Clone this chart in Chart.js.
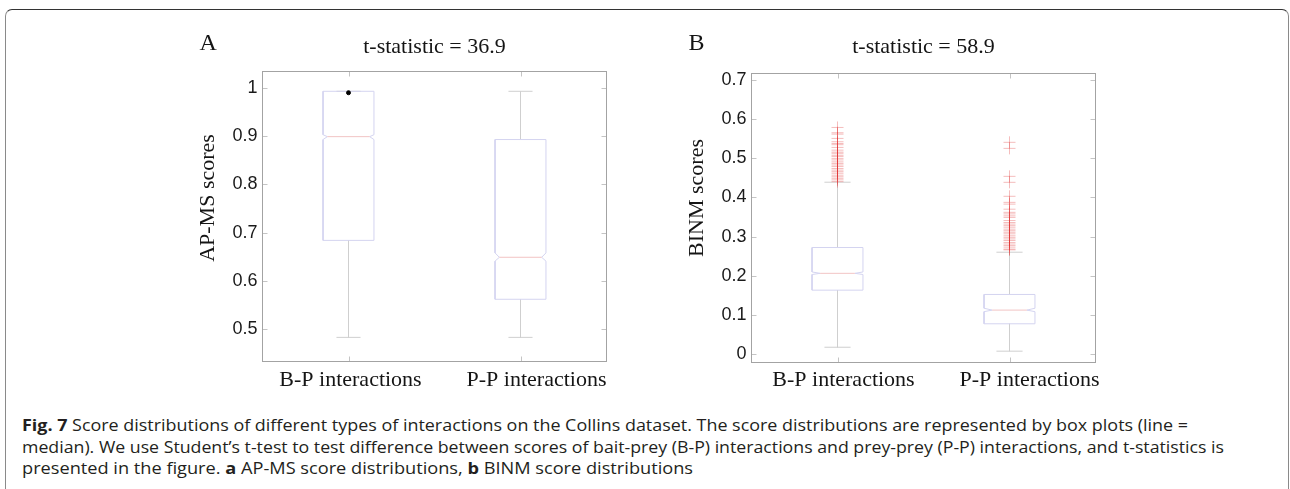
<!DOCTYPE html>
<html><head><meta charset="utf-8">
<script src="https://cdn.jsdelivr.net/npm/chart.js@4.4.0/dist/chart.umd.min.js"></script>
<style>
html,body{margin:0;padding:0;background:#fff;width:1290px;height:489px;overflow:hidden;}
#frame{position:absolute;left:5px;top:9px;width:1284px;height:600px;border-top:1.5px solid #333;border-left:1.5px solid #8a8a8a;border-right:1.5px solid #8a8a8a;border-radius:7px 7px 0 0;box-sizing:border-box;}
canvas{position:absolute;top:0;}
#caption{position:absolute;left:22px;top:415px;font-family:"Open Sans";font-size:16px;line-height:21.5px;color:#231f20;white-space:nowrap;}
#caption .ln{width:max-content;transform-origin:0 0;}
</style></head>
<body>
<div id="frame"></div>
<canvas id="cA" width="450" height="400" style="left:170px"></canvas>
<canvas id="cB" width="450" height="400" style="left:660px"></canvas>
<div id="caption">
<div class="ln"><b>Fig. 7</b> Score distributions of different types of interactions on the Collins dataset. The score distributions are represented by box plots (line =</div>
<div class="ln">median). We use Student’s t-test to test difference between scores of bait-prey (B-P) interactions and prey-prey (P-P) interactions, and t-statistics is</div>
<div class="ln">presented in the figure. <b>a</b> AP-MS score distributions, <b>b</b> BINM score distributions</div>
</div>
<script>
// ---------- data ----------
const categories = ['B-P interactions', 'P-P interactions'];

// Panel A: AP-MS scores
const yTicksA = [0.5, 0.6, 0.7, 0.8, 0.9, 1];
const yTickLabelsA = ['0.5', '0.6', '0.7', '0.8', '0.9', '1'];
const q1A = [0.684, 0.562];
const medA = [0.899, 0.649];
const q3A = [0.993, 0.893];
const notchLoA = [0.893, 0.641];
const notchHiA = [0.903, 0.658];
const whiskLoA = [0.483, 0.483];
const whiskHiA = [0.993, 0.993];
const outliersA_BP = [0.99];
const outliersA_PP = [];

// Panel B: BINM scores
const yTicksB = [0, 0.1, 0.2, 0.3, 0.4, 0.5, 0.6, 0.7];
const yTickLabelsB = ['0', '0.1', '0.2', '0.3', '0.4', '0.5', '0.6', '0.7'];
const q1B = [0.163, 0.077];
const medB = [0.206, 0.112];
const q3B = [0.272, 0.152];
const notchLoB = [0.203, 0.108];
const notchHiB = [0.2095, 0.1167];
const whiskLoB = [0.017, 0.007];
const whiskHiB = [0.439, 0.260];
const outliersB_BP = [0.579, 0.5655, 0.562, 0.551, 0.5425, 0.538, 0.535, 0.528, 0.521, 0.516, 0.513, 0.508, 0.505, 0.500, 0.496, 0.491, 0.487, 0.483, 0.479, 0.474, 0.470, 0.466, 0.462, 0.457, 0.453, 0.449, 0.445, 0.4405];
const outliersB_PP = [0.541, 0.5255, 0.454, 0.4387, 0.403, 0.3875, 0.383, 0.370, 0.362, 0.358, 0.353, 0.349, 0.341, 0.336, 0.332, 0.328, 0.324, 0.319, 0.315, 0.311, 0.307, 0.302, 0.298, 0.294, 0.290, 0.285, 0.281, 0.277, 0.273, 0.268, 0.266];

const titleA = 't-statistic = 36.9';
const titleB = 't-statistic = 58.9';
const yTitleA = 'AP-MS scores';
const yTitleB = 'BINM scores';

// ---------- styling ----------
const BOX_COL = '#d4d4f0';
const MED_COL = '#f2c4c4';
const WHISK_COL = '#cfcfcf';

function buildDatasets(q1, med, q3, nLo, nHi, wLo, wHi, outBP, outPP, opt){
  const outline = [], medLine = [], whisk = [];
  for (let i = 0; i < q1.length; i++) {
    const c = i + 1, x0 = c - opt.hw, x1 = c + opt.hw, ins = opt.ins;
    outline.push({x:x0,y:q3[i]},{x:x0,y:nHi[i]},{x:x0+ins,y:med[i]},{x:x0,y:nLo[i]},{x:x0,y:q1[i]},
                 {x:x1,y:q1[i]},{x:x1,y:nLo[i]},{x:x1-ins,y:med[i]},{x:x1,y:nHi[i]},{x:x1,y:q3[i]},{x:x0,y:q3[i]},{x:c,y:null});
    medLine.push({x:x0+ins,y:med[i]},{x:x1-ins,y:med[i]},{x:c,y:null});
    whisk.push({x:c,y:q3[i]},{x:c,y:wHi[i]},{x:c,y:null},
               {x:c-opt.cap,y:wHi[i]},{x:c+opt.cap,y:wHi[i]},{x:c,y:null},
               {x:c,y:q1[i]},{x:c,y:wLo[i]},{x:c,y:null},
               {x:c-opt.cap,y:wLo[i]},{x:c+opt.cap,y:wLo[i]},{x:c,y:null});
  }
  const outs = outBP.map(v => ({x:1, y:v})).concat(outPP.map(v => ({x:2, y:v})));
  const lineDs = (data, col) => ({data, showLine:true, borderColor:col, borderWidth:1, pointRadius:0, spanGaps:false, fill:false});
  return [
    {data: outs, showLine:false, pointStyle: opt.outStyle, pointRadius: opt.outR,
     pointBorderColor: opt.outCol, pointBackgroundColor: opt.outFill, pointBorderWidth:1},
    lineDs(medLine, MED_COL),
    lineDs(outline, BOX_COL),
    lineDs(whisk, WHISK_COL)
  ];
}

const decor = {
  id: 'decor',
  afterDatasetsDraw(chart, args, o) {
    const {ctx, chartArea: ca, scales} = chart;
    ctx.save();
    // inward tick marks
    ctx.strokeStyle = '#c4c4c4'; ctx.lineWidth = 1;
    ctx.beginPath();
    o.yTicks.forEach(v => {
      const y = Math.round(scales.y.getPixelForValue(v)) + 0.5;
      ctx.moveTo(ca.left, y); ctx.lineTo(ca.left + 5, y);
      ctx.moveTo(ca.right, y); ctx.lineTo(ca.right - 5, y);
    });
    categories.forEach((c, i) => {
      const x = Math.round(scales.x.getPixelForValue(i + 1)) + 0.5;
      ctx.moveTo(x, ca.top); ctx.lineTo(x, ca.top + 5);
      ctx.moveTo(x, ca.bottom); ctx.lineTo(x, ca.bottom - 5);
    });
    ctx.stroke();
    // axes box
    ctx.strokeStyle = '#a3a3a3';
    ctx.strokeRect(ca.left, ca.top, ca.right - ca.left, ca.bottom - ca.top);
    // texts
    ctx.fillStyle = '#151515';
    ctx.textBaseline = 'alphabetic';
    ctx.font = '22px "Liberation Serif"';
    ctx.textAlign = 'center';
    ctx.fillText(o.title, (ca.left + ca.right) / 2, o.titleY);
    categories.forEach((c, i) => {
      ctx.fillText(c, scales.x.getPixelForValue(i + 1) + o.labShift[i], o.labY);
    });
    ctx.save();
    ctx.translate(ca.left - 49, o.yTitleY);
    ctx.rotate(-Math.PI / 2);
    ctx.fillText(o.yTitle, 0, 0);
    ctx.restore();
    ctx.textAlign = 'left';
    ctx.font = '24px "Liberation Serif"';
    ctx.fillText(o.letter, ca.left - 63, o.letterY);
    ctx.restore();
  }
};

function makeChart(id, datasets, yMin, yMax, yTicks, yLabels, pad, axisW, plug) {
  return new Chart(document.getElementById(id), {
    type: 'scatter',
    data: {datasets},
    options: {
      responsive: false, animation: false,
      layout: {padding: pad},
      plugins: {legend: {display:false}, tooltip: {enabled:false}, decor: plug},
      scales: {
        x: {type:'linear', min:0.5, max:2.5, display:false},
        y: {type:'linear', min:yMin, max:yMax,
            afterFit(s){ s.width = axisW; },
            afterBuildTicks(s){ s.ticks = yTicks.map(v => ({value:v})); },
            ticks: {callback:(v, i) => yLabels[i], font:{family:'Liberation Sans', size:18}, color:'#1a1a1a', padding:5},
            grid: {display:false, drawTicks:false}, border: {display:false}}
      }
    },
    plugins: [decor]
  });
}

makeChart('cA',
  buildDatasets(q1A, medA, q3A, notchLoA, notchHiA, whiskLoA, whiskHiA, outliersA_BP, outliersA_PP,
    {hw:0.148, ins:0.025, cap:0.07, outStyle:'circle', outR:2, outCol:'#000', outFill:'#000'}),
  0.433, 1.034, yTicksA, yTickLabelsA,
  {left:0, right:13.5, top:71.5, bottom:38.5}, 92.5,
  {yTicks:yTicksA, title:titleA, titleY:52.5, labShift:[2, 16], labY:386, yTitle:yTitleA, yTitleY:198, letter:'A', letterY:50});

makeChart('cB',
  buildDatasets(q1B, medB, q3B, notchLoB, notchHiB, whiskLoB, whiskHiB, outliersB_BP, outliersB_PP,
    {hw:0.148, ins:0.047, cap:0.076, outStyle:'cross', outR:6, outCol:'rgba(225,50,50,0.32)', outFill:'rgba(0,0,0,0)'}),
  -0.022, 0.717, yTicksB, yTickLabelsB,
  {left:0, right:14.5, top:73.5, bottom:37.5}, 91.5,
  {yTicks:yTicksB, title:titleB, titleY:52.5, labShift:[6, 20], labY:386, yTitle:yTitleB, yTitleY:198, letter:'B', letterY:50});

// caption line fit
const capWidths = [1166, 1202, 671];
document.querySelectorAll('#caption .ln').forEach((el, i) => {
  const w = el.getBoundingClientRect().width;
  el.style.transform = 'scaleX(' + (capWidths[i] / w) + ')';
});
</script>
</body></html>
